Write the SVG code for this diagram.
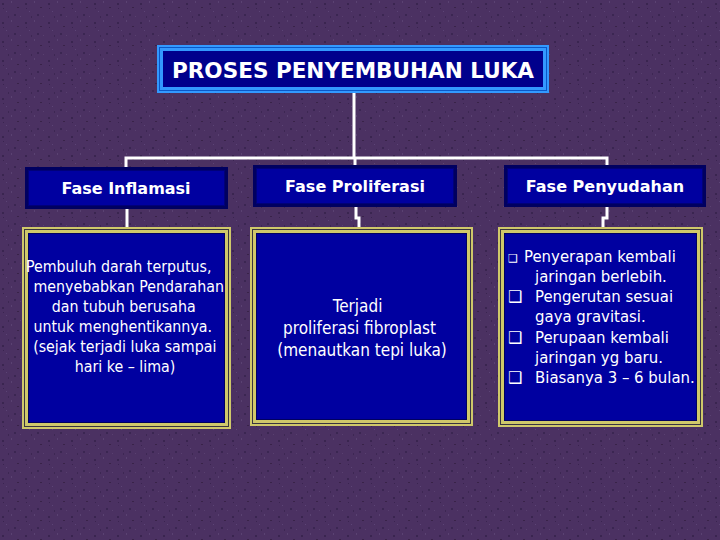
<svg xmlns="http://www.w3.org/2000/svg" width="720" height="540" viewBox="0 0 720 540">
<defs>
<pattern id="tex" width="23" height="19" patternUnits="userSpaceOnUse">
<rect width="23" height="19" fill="#4b3162"/>
<rect x="2" y="3" width="2" height="2" fill="#3a2550"/>
<rect x="11" y="1" width="1" height="2" fill="#5a4272"/>
<rect x="17" y="7" width="2" height="1" fill="#392349"/>
<rect x="6" y="11" width="1" height="1" fill="#5c4476"/>
<rect x="14" y="14" width="2" height="2" fill="#3b2652"/>
<rect x="20" y="16" width="1" height="1" fill="#594070"/>
<rect x="8" y="16" width="1" height="2" fill="#3d2753"/>
<rect x="3" y="8" width="1" height="1" fill="#3a2450"/>
</pattern>
<style>
.hdrOut{fill:#000060}
.hdrIn{fill:#0000a0;stroke:#000078;stroke-width:1}
.hdrT{font-family:"DejaVu Sans",Verdana,sans-serif;font-weight:bold;font-size:16px;fill:#ffffff;text-anchor:middle}
.boxOut{fill:#cfc86a}
.boxLine{fill:none;stroke:#3a3540;stroke-width:1}
.boxIn{fill:#0000a0;stroke:#000060;stroke-width:1}
.body{font-family:"DejaVu Sans Condensed","DejaVu Sans",sans-serif;font-size:15.8px;fill:#ffffff}
.midT{font-size:17px}
.rightT{font-size:16.6px}
.mid{text-anchor:middle}
.bul{font-family:"DejaVu Sans",sans-serif;font-size:16px}
.conn{fill:none;stroke:#ffffff;stroke-width:3}
</style>
</defs>
<rect width="720" height="540" fill="url(#tex)"/>

<g id="connectors">
<polyline class="conn" points="354,93 354,158"/>
<polyline class="conn" points="126,168 126,158 607,158 607,166"/>
<polyline class="conn" points="355,158 355,166"/>
<polyline class="conn" points="127,209 127,229"/>
<polyline class="conn" points="356,207 356,218 359,218 359,229"/>
<polyline class="conn" points="607,207 607,218 603,218 603,229"/>
</g>

<g id="title">
<rect x="157" y="45" width="392" height="48" fill="#3399ff"/>
<rect x="159.5" y="47.5" width="387" height="43" fill="none" stroke="#0a58c8" stroke-width="1"/>
<rect x="163" y="51" width="380" height="36" fill="#00008c"/>
<text x="353" y="78" font-family="DejaVu Sans,Verdana,sans-serif" font-weight="bold" font-size="21px" fill="#ffffff" text-anchor="middle" textLength="362" lengthAdjust="spacingAndGlyphs">PROSES PENYEMBUHAN LUKA</text>
</g>

<g id="hdr-inflamasi">
<rect class="hdrOut" x="25" y="167" width="203" height="42"/>
<rect class="hdrIn" x="28.5" y="170.5" width="196" height="35"/>
<text class="hdrT" x="126" y="194">Fase Inflamasi</text>
</g>

<g id="hdr-proliferasi">
<rect class="hdrOut" x="253" y="165" width="204" height="42"/>
<rect class="hdrIn" x="256.5" y="168.5" width="197" height="35"/>
<text class="hdrT" x="355" y="192">Fase Proliferasi</text>
</g>

<g id="hdr-penyudahan">
<rect class="hdrOut" x="504" y="165" width="202" height="42"/>
<rect class="hdrIn" x="507.5" y="168.5" width="195" height="35"/>
<text class="hdrT" x="605" y="192">Fase Penyudahan</text>
</g>

<g id="box-inflamasi">
<rect class="boxOut" x="22" y="227" width="209" height="202"/>
<rect class="boxLine" x="24.5" y="229.5" width="204" height="197"/>
<rect class="boxIn" x="28.5" y="233.5" width="196" height="189"/>
<text class="body mid">
<tspan x="121" y="272">Pembuluh darah terputus,</tspan>
<tspan x="131" y="292">menyebabkan Pendarahan</tspan>
<tspan x="126" y="312">dan tubuh berusaha</tspan>
<tspan x="125" y="332">untuk menghentikannya.</tspan>
<tspan x="127" y="352">(sejak terjadi luka sampai</tspan>
<tspan x="125" y="372">hari ke – lima)</tspan>
</text>
</g>

<g id="box-proliferasi">
<rect class="boxOut" x="250" y="227" width="223" height="199"/>
<rect class="boxLine" x="252.5" y="229.5" width="218" height="194"/>
<rect class="boxIn" x="256.5" y="233.5" width="210" height="186"/>
<text class="body midT mid">
<tspan x="360" y="312">Terjadi</tspan>
<tspan x="362" y="334">proliferasi fibroplast</tspan>
<tspan x="362" y="356">(menautkan tepi luka)</tspan>
</text>
</g>

<g id="box-penyudahan">
<rect class="boxOut" x="498" y="227" width="205" height="200"/>
<rect class="boxLine" x="500.5" y="229.5" width="200" height="195"/>
<rect class="boxIn" x="504.5" y="233.5" width="192" height="187"/>
<text class="body rightT">
<tspan x="508" y="262" font-family="DejaVu Sans,sans-serif" font-size="11px">❑</tspan>
<tspan x="524" y="262">Penyerapan kembali</tspan>
<tspan x="535" y="282">jaringan berlebih.</tspan>
<tspan class="bul" x="508" y="302">❑</tspan>
<tspan x="535" y="302">Pengerutan sesuai</tspan>
<tspan x="535" y="322">gaya gravitasi.</tspan>
<tspan class="bul" x="508" y="343">❑</tspan>
<tspan x="535" y="343">Perupaan kembali</tspan>
<tspan x="535" y="363">jaringan yg baru.</tspan>
<tspan class="bul" x="508" y="383">❑</tspan>
<tspan x="535" y="383">Biasanya 3 – 6 bulan.</tspan>
</text>
</g>
</svg>
